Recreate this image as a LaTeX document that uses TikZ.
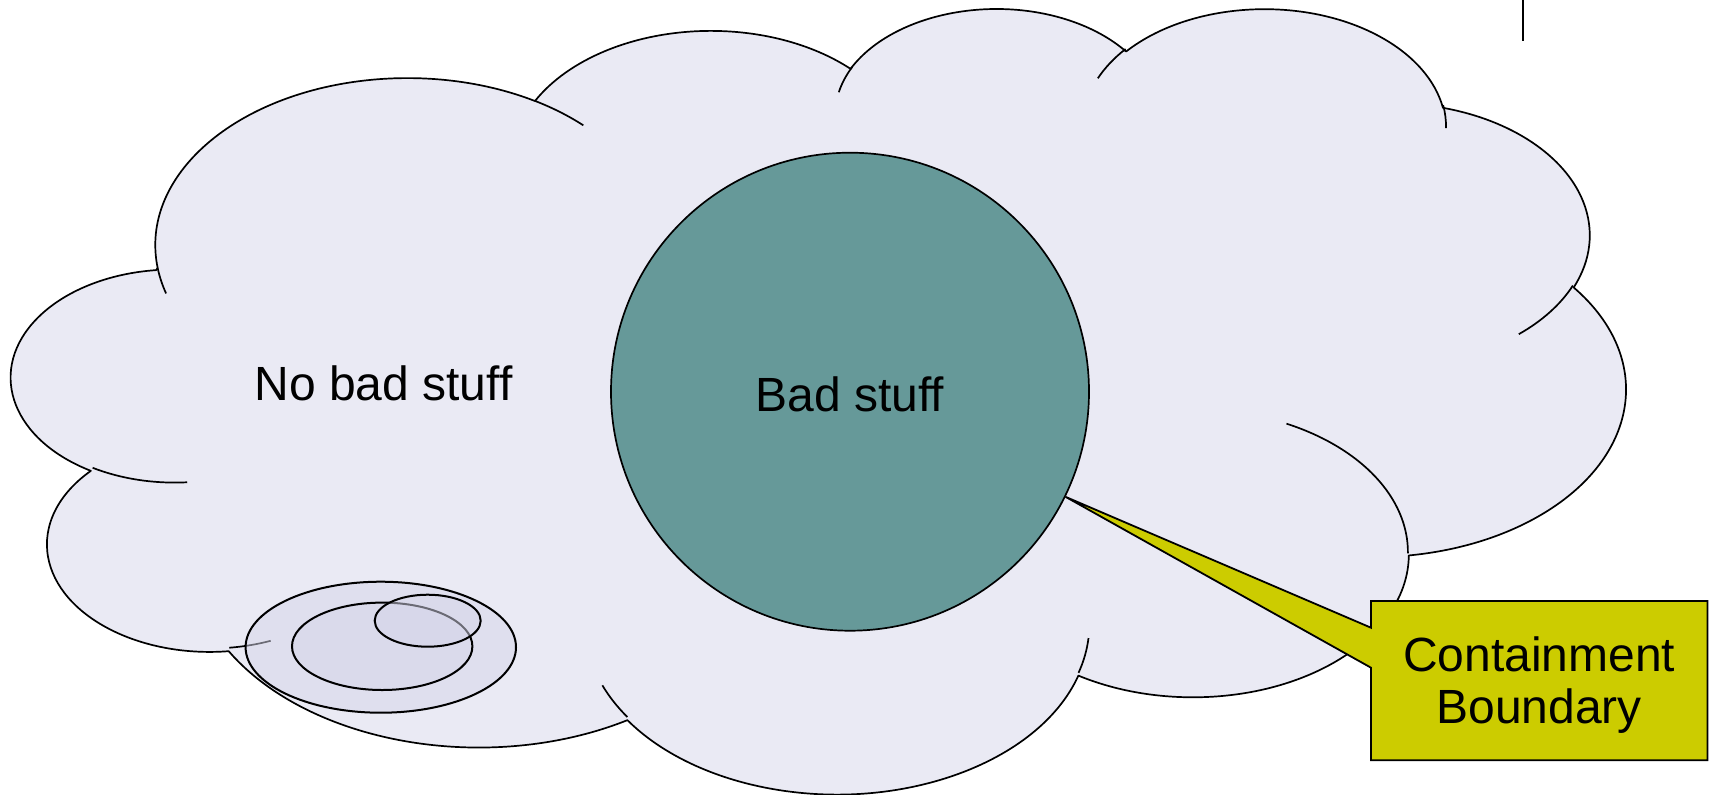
\documentclass[tikz,border=0pt]{standalone}
\usepackage{fontspec}
\setmainfont{Liberation Sans}

\definecolor{cloudfill}{RGB}{234,234,244}
\definecolor{badfill}{RGB}{102,153,153}
\definecolor{calloutfill}{RGB}{204,204,0}
\definecolor{ringfill}{RGB}{214,214,234}

% Cloud lobes follow the DrawingML "cloud" preset geometry (43200 x 43200
% path units, used here divided by 10).  Each arc is given by its radii and
% by visual start / sweep angles in degrees; they are turned into the
% parametric angles that TikZ's arc operation expects and kept as a style.
\newcommand\cloudarc[5]{%
  \pgfmathsetmacro\caS{atan2(#2*sin(#4),#3*cos(#4))}%
  \pgfmathsetmacro\caE{atan2(#2*sin(#4+#5),#3*cos(#4+#5))}%
  \pgfmathsetmacro\caD{\caE-(\caS)+360*(\caE<\caS)}%
  \pgfmathsetmacro\caX{#2*0.05}%
  \pgfmathsetmacro\caY{#3*0.05}%
  \edef\caTmp{\noexpand\tikzset{#1/.style={start angle=\caS, delta angle=\caD,
      x radius=\caX pt, y radius=\caY pt}}}%
  \caTmp}

\begin{document}
\begin{tikzpicture}[x=0.5pt, y=0.5pt, yscale=-1,
  cloudshape/.style={fill=cloudfill, draw=black, line width=0.85pt, line join=round},
  cloudtail/.style={draw=black, line width=0.85pt},
  badshape/.style={circle, fill=badfill, draw=black, line width=0.85pt,
    minimum size=239pt, inner sep=0pt},
  callout/.style={fill=calloutfill, draw=black, line width=0.9pt, line join=miter},
  ring/.style={fill=ringfill, fill opacity=0.5, draw=black, line width=1pt},
  labeltext/.style={font=\fontsize{24}{26.2}\selectfont, inner sep=0pt},
  marker/.style={draw=black, line width=0.85pt}]

\useasboundingbox (0,0) rectangle (1714,794);

% outline arcs of the cloud
\cloudarc{lobeA}{6753}{9190}{-190.4875}{123.7805}
\cloudarc{lobeB}{5333}{7267}{-144.1024}{89.9452}
\cloudarc{lobeC}{4365}{5945}{-145.8079}{99.7230}
\cloudarc{lobeD}{4857}{6595}{-130.9861}{117.2417}
\cloudarc{lobeE}{5333}{7273}{-78.7089}{109.0269}
\cloudarc{lobeF}{6775}{9220}{-46.2673}{130.2690}
\cloudarc{lobeG}{5785}{7867}{0.6250}{114.0333}
\cloudarc{lobeH}{6752}{9215}{22.4516}{115.1726}
\cloudarc{lobeI}{7720}{10543}{66.2426}{75.7110}
\cloudarc{lobeJ}{4360}{5918}{-274.9421}{146.7356}
\cloudarc{lobeK}{4345}{5945}{-246.8285}{152.5189}
% inner tails where the lobes overlap
\cloudarc{tailA}{4345}{5945}{86.7420}{26.4295}
\cloudarc{tailB}{4360}{5918}{73.6105}{11.4475}
\cloudarc{tailC}{6752}{9215}{137.6242}{14.0811}
\cloudarc{tailD}{6752}{9215}{6.4533}{15.9984}
\cloudarc{tailE}{5785}{7867}{-70.2924}{70.9174}
\cloudarc{tailF}{5333}{7273}{30.3180}{27.7515}
\cloudarc{tailG}{4857}{6595}{-13.7443}{14.8589}
\cloudarc{tailH}{4857}{6595}{-149.1815}{18.1954}
\cloudarc{tailI}{4365}{5945}{-163.4943}{17.6864}
\cloudarc{tailJ}{6753}{9190}{-66.7070}{12.3194}
\cloudarc{tailK}{6753}{9190}{157.6544}{11.8582}

% the cloud: "no bad stuff" region
\begin{scope}[shift={(11.96,6.45)}, xscale=0.37344, yscale=0.18177]
  \path[cloudshape] (390,1437)
    arc[lobeA] arc[lobeB] arc[lobeC] arc[lobeD] arc[lobeE] arc[lobeF]
    arc[lobeG] arc[lobeH] arc[lobeI] arc[lobeJ] arc[lobeK] -- cycle;
  \path[cloudtail]
    (469.3,2617.7) arc[tailA]
    (692.8,3489.9) arc[tailB]
    (1647.8,3909.0) arc[tailC]
    (2882.7,3475.1) arc[tailD]
    (3412.9,2295.4) arc[tailE]
    (4179.8,1535.4) arc[tailF]
    (3832.4,542.6) arc[tailG]
    (2907.8,395.2) arc[tailH]
    (2214.1,472.0) arc[tailI]
    (1400.0,519.2) arc[tailJ]
    (412.7,1578.9) arc[tailK];
\end{scope}

% the contained region
\node[badshape] (bad) at (850,391.7) {};

% callout pointing at the boundary of the contained region
\coordinate (tip) at (bad.-26.8);
\coordinate (cnw) at (1371,601);
\coordinate (cne) at (1707.5,601);
\coordinate (cse) at (1707.5,760.3);
\coordinate (csw) at (1371,760.3);
\coordinate (cwl) at (1371,667.7);
\coordinate (cwu) at (1371,627.7);
\path[callout] (cnw) -- (cne) -- (cse) -- (csw) -- (cwl) -- (tip) -- (cwu) -- cycle;

% nested translucent rings
\path[ring] (380.8,647.2) ellipse[x radius=67.6pt, y radius=32.75pt];
\path[ring] (382.2,646.3) ellipse[x radius=45.1pt, y radius=21.85pt];
\path[ring] (427.7,620.7) ellipse[x radius=26.5pt, y radius=13pt];

% labels
\node[labeltext, anchor=base] (goodlabel) at (383.5,400.5) {No bad stuff};
\node[labeltext, anchor=base] (badlabel) at (850,411.5) {Bad stuff};
\node[labeltext, align=center] (calloutlabel) at (1539.2,685) {Containment\\Boundary};

% short rule at the top edge
\coordinate (rtop) at (1522.7,0);
\coordinate (rbot) at (1522.7,40.7);
\path[marker] (rtop) -- (rbot);

\end{tikzpicture}
\end{document}
